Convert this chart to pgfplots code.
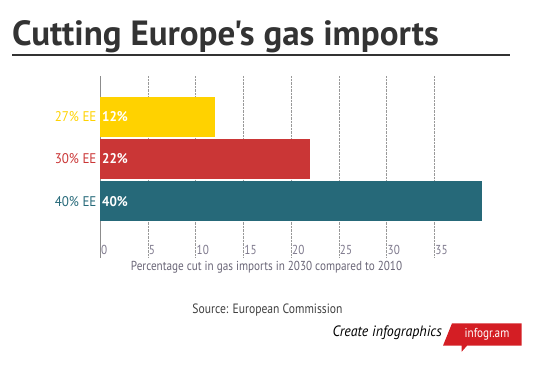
\documentclass[border=0pt]{standalone}
\usepackage{pgfplots}
\pgfplotsset{compat=1.18}
\usepackage{fontspec}
\setmainfont{PT Sans}
\newfontfamily\titlefont[Ligatures=TeXOff]{PT Sans}
\newfontfamily\narrow[FakeStretch=0.86]{PT Sans}
\newfontfamily\semi[FakeStretch=0.93]{PT Sans}
\definecolor{yel}{RGB}{255,210,0}
\definecolor{redb}{RGB}{202,54,54}
\definecolor{tealb}{RGB}{38,105,121}
\definecolor{ticktxt}{RGB}{125,120,140}
\definecolor{titlec}{RGB}{51,51,51}
\definecolor{tagred}{RGB}{212,30,36}
\begin{document}
\begin{tikzpicture}[x=1pt,y=1pt]
\path[use as bounding box] (0,0) rectangle (535,-372);
\node[anchor=base west, font=\fontsize{35}{35}\titlefont\bfseries, text=titlec, inner sep=0] at (12,-45) {Cutting Europe's gas imports};
\draw[titlec, line width=2pt] (12,-54.5) -- (510,-54.5);
\begin{axis}[at={(100pt,-76pt)}, anchor=north west, scale only axis,
  width=382pt, height=182pt,
  xmin=0, xmax=40, ymin=-0.96, ymax=3.34, y dir=reverse,
  axis x line=bottom, axis y line=left,
  axis line style={-},
  x axis line style={draw=none},
  y axis line style={draw=gray!90, line width=0.8pt},
  major tick length=0pt,
  xmajorgrids, grid style={densely dotted, gray!80},
  xtick={0,5,...,35},
  ytick={0,1,2},
  yticklabels={\textcolor{yel}{27\% EE},\textcolor{redb}{30\% EE},\textcolor{tealb}{40\% EE}},
  yticklabel style={font=\fontsize{14}{14}\semi},
  xticklabel style={anchor=south west, inner sep=1pt, yshift=2pt, font=\fontsize{13}{13}\narrow, text=ticktxt},
  /pgf/number format/assume math mode=true,
  xlabel={Percentage cut in gas imports in 2030 compared to 2010},
  xlabel style={at={(axis description cs:0.436,0)}, anchor=north, font=\fontsize{13}{13}\narrow, text=ticktxt!85!black},
  clip=false,
]
\addplot[xbar, bar width=40pt, bar shift=0pt, fill=yel, draw=none] coordinates {(12,0)};
\addplot[xbar, bar width=40pt, bar shift=0pt, fill=redb, draw=none] coordinates {(22,1)};
\addplot[xbar, bar width=40pt, bar shift=0pt, fill=tealb, draw=none] coordinates {(40,2)};
\addplot[draw=none, nodes near coords, point meta=explicit symbolic,
  nodes near coords style={anchor=west, text=white, font=\fontsize{14}{14}\semi\bfseries, inner sep=2pt}]
  coordinates {(0,0)[12\%] (0,1)[22\%] (0,2)[40\%]};
\end{axis}
\node[font=\fontsize{13.5}{13.5}\narrow, text=black!75] at (267.5,-310.5) {Source: European Commission};
\node[anchor=east, font=\fontsize{15}{15}\semi\itshape, text=black, inner sep=0] at (442,-333) {Create infographics};
\fill[tagred] (443,-345.7) -- (452,-323.3) -- (521.7,-323.3) -- (521.7,-345.7) -- (467,-345.7) -- (461.7,-351.7) -- (461.7,-345.7) -- cycle;
\node[font=\fontsize{13}{13}\narrow, text=white] at (487,-334) {infogr.am};
\end{tikzpicture}
\end{document}
